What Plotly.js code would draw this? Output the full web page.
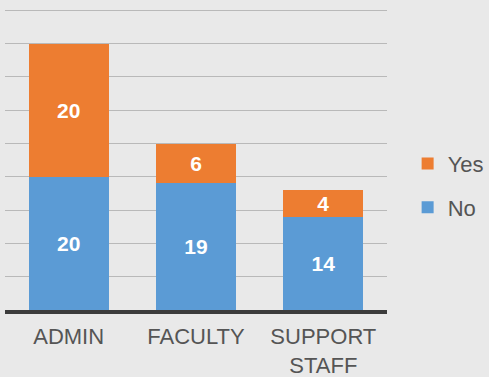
<!DOCTYPE html>
<html>
<head>
<meta charset="utf-8">
<script src="https://cdn.plot.ly/plotly-3.0.1.min.js"></script>
<style>html,body{margin:0;padding:0;background:#e9e9e9;}</style>
</head>
<body>
<div id="chart" style="width:489px;height:377px;"></div>
<script>
const categories = ["ADMIN", "FACULTY", "SUPPORT<br>STAFF"];
const noValues = [20, 19, 14];
const yesValues = [20, 6, 4];
const seriesNames = ["No", "Yes"];
const colors = {No: "#5b9bd5", Yes: "#ed7d31"};

const labelFont = {family: "Liberation Sans, Arial, sans-serif", size: 21, color: "#ffffff", weight: "bold"};

const traces = [
  {type: "bar", name: seriesNames[0], x: categories, y: noValues, marker: {color: colors.No},
   text: noValues.map(String), textposition: "inside", insidetextanchor: "middle", constraintext: "none",
   textangle: 0, textfont: labelFont, legendgroup: "a", legendrank: 2, hoverinfo: "none"},
  {type: "bar", name: seriesNames[1], x: categories, y: yesValues, marker: {color: colors.Yes},
   text: yesValues.map(String), textposition: "inside", insidetextanchor: "middle", constraintext: "none",
   textangle: 0, textfont: labelFont, legendgroup: "b", legendrank: 1, hoverinfo: "none"}
];

const layout = {
  width: 489, height: 377,
  margin: {l: 5, r: 102, t: 7, b: 67, autoexpand: false},
  paper_bgcolor: "#e9e9e9",
  plot_bgcolor: "rgba(0,0,0,0)",
  barmode: "stack",
  bargap: 0.37,
  font: {family: "Liberation Sans, Arial, sans-serif", color: "#555555"},
  xaxis: {
    showline: true, linecolor: "#3c3c3c", linewidth: 4,
    ticks: "", tickfont: {size: 22, color: "#555555"}, ticklabelstandoff: 4,
    showgrid: false, zeroline: false, fixedrange: true, automargin: false
  },
  yaxis: {
    range: [0, 45.5], dtick: 5, showticklabels: false,
    showgrid: true, gridcolor: "#b9b9b9", gridwidth: 1,
    zeroline: false, showline: false, fixedrange: true, automargin: false
  },
  showlegend: true,
  legend: {
    x: 1.054, xanchor: "left", y: 0.41, yanchor: "middle",
    traceorder: "grouped", tracegroupgap: 12,
    font: {size: 22, color: "#555555"},
    bgcolor: "rgba(0,0,0,0)"
  }
};

Plotly.newPlot("chart", traces, layout, {displayModeBar: false, staticPlot: true});
</script>
</body>
</html>
